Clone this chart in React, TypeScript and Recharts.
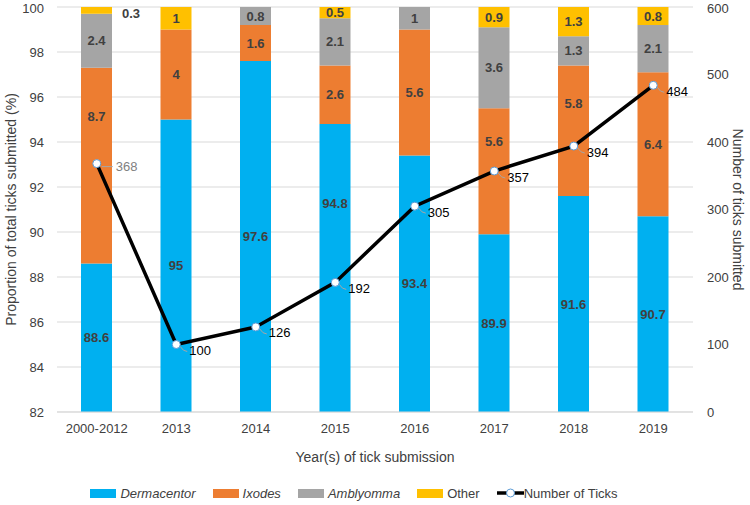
import React from 'react'
import { ComposedChart, Bar, Line, XAxis, YAxis, CartesianGrid, Legend, LabelList } from 'recharts'

const years = ['2000-2012', '2013', '2014', '2015', '2016', '2017', '2018', '2019']
const dermacentor = [88.6, 95, 97.6, 94.8, 93.4, 89.9, 91.6, 90.7]
const ixodes = [8.7, 4, 1.6, 2.6, 5.6, 5.6, 5.8, 6.4]
const amblyomma = [2.4, 0, 0.8, 2.1, 1, 3.6, 1.3, 2.1]
const other = [0.3, 1, 0, 0.5, 0, 0.9, 1.3, 0.8]
const tickCounts = [368, 100, 126, 192, 305, 357, 394, 484]

const leftTicks = [82, 84, 86, 88, 90, 92, 94, 96, 98, 100]
const rightTicks = [0, 100, 200, 300, 400, 500, 600]

const FONT = "'Liberation Sans', Arial, sans-serif"
const TEXT = '#404040'
const CHART_W = 750
const CHART_H = 505
const PLOT_BOTTOM = 412

// a few labels were nudged by hand in the original to clear the line
const dermacentorLabelNudge = [0, 0, 0, -65, 0, 0, 0, 0]
const ixodesLabelNudge = [-49, 0, 0, 0, 0, -30, -27, 0]

const COLORS = {
  dermacentor: '#00B0F0',
  ixodes: '#ED7D31',
  amblyomma: '#A5A5A5',
  other: '#FFC000',
}

const data = years.map((year, i) => ({
  year,
  dermacentor: dermacentor[i],
  ixodes: ixodes[i],
  amblyomma: amblyomma[i],
  other: other[i],
  ticks: tickCounts[i],
}))

const makeBarLabel = (nudge?: number[]) => (props: any) => {
  const box = props.viewBox ?? props
  const { x, y, width, height } = box
  const value = props.value
  if (!value) return null
  const bottom = Math.min(y + height, PLOT_BOTTOM)
  const cy = (y + bottom) / 2 + (nudge ? nudge[props.index] ?? 0 : 0)
  if (value < 0.4) {
    return (
      <text x={x + width + 10} y={cy + 3} dominantBaseline="central" fontFamily={FONT} fontSize={13} fontWeight={700} fill={TEXT}>
        {value}
      </text>
    )
  }
  return (
    <text x={x + width / 2} y={cy} textAnchor="middle" dominantBaseline="central" fontFamily={FONT} fontSize={13} fontWeight={700} fill={TEXT}>
      {value}
    </text>
  )
}

const renderLineLabel = (props: any) => {
  const box = props.viewBox ?? props
  const { x, y } = box
  if (props.index === 0) {
    // first label sits further right with a flat gray leader
    return (
      <g>
        <line x1={x + 5} y1={y + 3} x2={x + 16} y2={y + 3} stroke="#a6a6a6" strokeWidth={1} />
        <text x={x + 19} y={y + 3} dominantBaseline="central" fontFamily={FONT} fontSize={13} fill="#7f7f7f">
          {props.value}
        </text>
      </g>
    )
  }
  return (
    <g>
      <path d={`M${x + 4},${y + 2} Q${x + 7},${y + 7} ${x + 11},${y + 7}`} stroke="#a6a6a6" strokeWidth={1} fill="none" />
      <text x={x + 13} y={y + 6} dominantBaseline="central" fontFamily={FONT} fontSize={13} fill="#000">
        {props.value}
      </text>
    </g>
  )
}

const legendItems = [
  { name: 'Dermacentor', color: COLORS.dermacentor, italic: true },
  { name: 'Ixodes', color: COLORS.ixodes, italic: true },
  { name: 'Amblyomma', color: COLORS.amblyomma, italic: true },
  { name: 'Other', color: COLORS.other, italic: false },
]

const renderLegend = () => (
  <div style={{ display: 'flex', justifyContent: 'center', alignItems: 'center', fontFamily: FONT, fontSize: 13, color: TEXT, height: 24, paddingRight: 42 }}>
    {legendItems.map((item) => (
      <div key={item.name} style={{ display: 'flex', alignItems: 'center', marginRight: 17 }}>
        <span style={{ display: 'inline-block', width: 26, height: 9, background: item.color, marginRight: 4 }} />
        <span style={{ fontStyle: item.italic ? 'italic' : 'normal' }}>{item.name}</span>
      </div>
    ))}
    <div style={{ display: 'flex', alignItems: 'center' }}>
      <svg width={27} height={12}>
        <line x1={0} y1={6} x2={27} y2={6} stroke="#000" strokeWidth={3.5} />
        <circle cx={13.5} cy={6} r={4} fill="#fff" stroke="#5B9BD5" strokeWidth={1} />
      </svg>
      <span>Number of Ticks</span>
    </div>
  </div>
)

export default function App() {
  return (
    <div style={{ position: 'absolute', left: 0, top: 0, background: '#fff' }}>
      <ComposedChart width={CHART_W} height={CHART_H} data={data} margin={{ top: 7, right: 0, bottom: 0, left: 0 }} barSize={31}>
        <CartesianGrid yAxisId="left" vertical={false} stroke="#D9D9D9" strokeWidth={1} />
        <XAxis
          dataKey="year"
          tickLine={false}
          axisLine={{ stroke: '#D9D9D9' }}
          tick={{ fill: TEXT, fontSize: 13, fontFamily: FONT }}
          tickMargin={6}
          height={69}
          label={{ value: 'Year(s) of tick submission', position: 'insideBottom', offset: 19, fill: TEXT, fontSize: 14, fontFamily: FONT }}
        />
        <YAxis
          yAxisId="left"
          domain={[82, 100]}
          ticks={leftTicks}
          allowDataOverflow
          tickLine={false}
          axisLine={false}
          width={57}
          tickMargin={7}
          tick={{ fill: TEXT, fontSize: 13, fontFamily: FONT }}
          label={{ value: 'Proportion of total ticks submitted (%)', angle: -90, position: 'insideLeft', offset: 11, fill: TEXT, fontSize: 14, fontFamily: FONT, style: { textAnchor: 'middle' } }}
        />
        <YAxis
          yAxisId="right"
          orientation="right"
          domain={[0, 600]}
          ticks={rightTicks}
          tickLine={false}
          axisLine={false}
          width={57}
          tickMargin={8}
          tick={{ fill: TEXT, fontSize: 13, fontFamily: FONT, textAnchor: 'start' }}
          label={{ value: 'Number of ticks submitted', angle: 90, position: 'insideRight', offset: 12, fill: TEXT, fontSize: 14, fontFamily: FONT, style: { textAnchor: 'middle' } }}
        />
        <Legend verticalAlign="bottom" content={renderLegend} />
        <Bar yAxisId="left" dataKey="dermacentor" name="Dermacentor" stackId="a" fill={COLORS.dermacentor} isAnimationActive={false}>
          <LabelList dataKey="dermacentor" content={makeBarLabel(dermacentorLabelNudge)} />
        </Bar>
        <Bar yAxisId="left" dataKey="ixodes" name="Ixodes" stackId="a" fill={COLORS.ixodes} isAnimationActive={false}>
          <LabelList dataKey="ixodes" content={makeBarLabel(ixodesLabelNudge)} />
        </Bar>
        <Bar yAxisId="left" dataKey="amblyomma" name="Amblyomma" stackId="a" fill={COLORS.amblyomma} isAnimationActive={false}>
          <LabelList dataKey="amblyomma" content={makeBarLabel()} />
        </Bar>
        <Bar yAxisId="left" dataKey="other" name="Other" stackId="a" fill={COLORS.other} isAnimationActive={false}>
          <LabelList dataKey="other" content={makeBarLabel()} />
        </Bar>
        <Line
          yAxisId="right"
          type="linear"
          dataKey="ticks"
          name="Number of Ticks"
          stroke="#000"
          strokeWidth={3.5}
          dot={{ r: 4, fill: '#fff', stroke: '#5B9BD5', strokeWidth: 1 }}
          isAnimationActive={false}
        >
          <LabelList dataKey="ticks" content={renderLineLabel} />
        </Line>
      </ComposedChart>
    </div>
  )
}
